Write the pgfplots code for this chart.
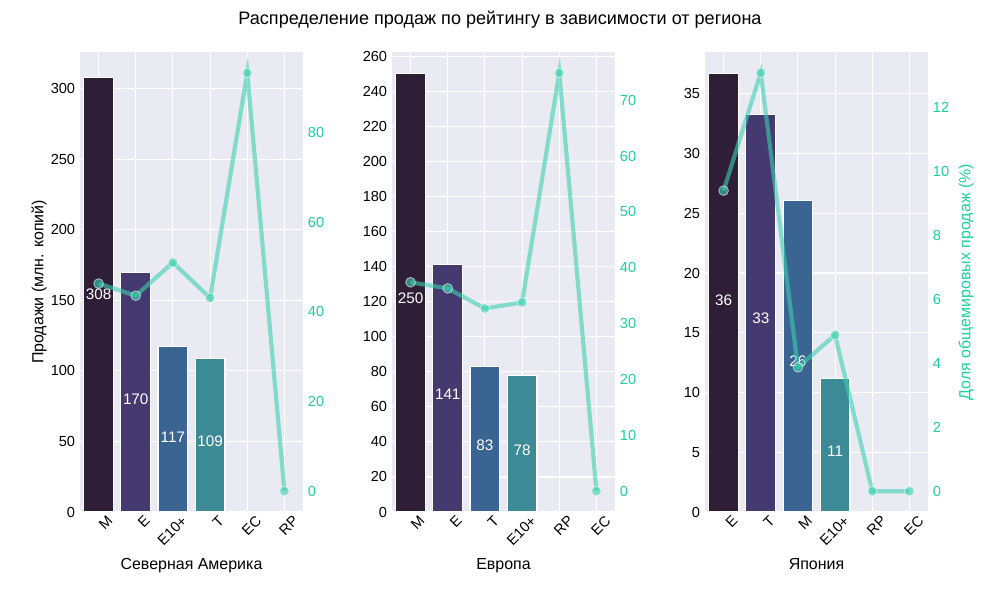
\documentclass[border=0pt]{standalone}
\usepackage{pgfplots}
\pgfplotsset{compat=1.18}
\usepackage{fontspec}
\setmainfont{Liberation Sans}
\definecolor{bg}{HTML}{EAEAF2}
\definecolor{ca}{HTML}{2E1F37}
\definecolor{cb}{HTML}{443A70}
\definecolor{cc}{HTML}{3A6491}
\definecolor{cd}{HTML}{3C8A96}
\definecolor{lncol}{HTML}{3CD0B0}
\definecolor{tk}{HTML}{1CCFA0}
\pgfplotsset{
 bpanel/.style={at={(#1*0.72pt,88*0.72pt)},anchor=south west,width=223*0.72pt,height=460*0.72pt,scale only axis,
  xmin=-0.5,xmax=5.5,ymin=0,
  /pgf/number format/assume math mode=true,
  tick label style={font=\fontsize{10.5}{12}\selectfont},
  label style={font=\fontsize{11.5}{13}\selectfont},
  tick style={draw=none}, axis line style={draw=none}},
 lpanel/.style={bpanel=#1, axis background/.style={fill=bg}, grid=major, grid style={white,line width=0.8pt},
  xtick={0,...,5}, xticklabel style={rotate=45,anchor=north east,yshift=-2pt,xshift=6pt},
  ylabel style={yshift=-4pt}},
 rpanel/.style={bpanel=#1, axis y line*=right, axis x line=none, yticklabel style={text=tk}},
 barst/.style={ybar,bar width=0.8,bar shift=0pt,draw=white,line width=0.8pt},
 labst/.style={only marks,mark=none,nodes near coords,point meta=explicit symbolic,
  nodes near coords style={anchor=center,text=white,font=\fontsize{11}{13}\selectfont}},
 lnst/.style={draw=lncol,opacity=0.6,line width=3pt,mark=*,mark size=3.5pt,mark options={draw=white,line width=0.6pt,fill=lncol}}
}
\begin{document}
\begin{tikzpicture}
\useasboundingbox (0,0) rectangle (720pt,432pt);
\node at (360pt,418pt) {\fontsize{13}{15}\selectfont Распределение продаж по рейтингу в зависимости от региона};
% Panel 1
\begin{axis}[lpanel=80, ymax=326, xticklabels={M,E,E10+,T,EC,RP}, xlabel={Северная Америка}, ylabel={Продажи (млн. копий)}]
\addplot[barst,fill=ca] coordinates {(0,308)};
\addplot[barst,fill=cb] coordinates {(1,170)};
\addplot[barst,fill=cc] coordinates {(2,117)};
\addplot[barst,fill=cd] coordinates {(3,109)};
\addplot[labst] coordinates {(0,154)[308] (1,80)[170] (2,53)[117] (3,50)[109]};
\end{axis}
\begin{axis}[rpanel=80, ymin=-4.67, ymax=97.97, ytick={0,20,...,80}]
\addplot[lnst] coordinates {(0,46.3) (1,43.6) (2,51.0) (3,43.1) (4,93.3) (5,0)};
\end{axis}
% Panel 2
\begin{axis}[lpanel=392, ymax=262.5, xticklabels={M,E,T,E10+,RP,EC}, xlabel={Европа}]
\addplot[barst,fill=ca] coordinates {(0,250)};
\addplot[barst,fill=cb] coordinates {(1,141)};
\addplot[barst,fill=cc] coordinates {(2,83)};
\addplot[barst,fill=cd] coordinates {(3,78)};
\addplot[labst] coordinates {(0,122)[250] (1,67)[141] (2,38)[83] (3,35)[78]};
\end{axis}
\begin{axis}[rpanel=392, ymin=-3.75, ymax=78.65, ytick={0,10,...,70}]
\addplot[lnst] coordinates {(0,37.4) (1,36.3) (2,32.7) (3,33.8) (4,74.9) (5,0)};
\end{axis}
% Panel 3
\begin{axis}[lpanel=705, ymax=38.5, xticklabels={E,T,M,E10+,RP,EC}, xlabel={Япония}]
\addplot[barst,fill=ca] coordinates {(0,36.7)};
\addplot[barst,fill=cb] coordinates {(1,33.3)};
\addplot[barst,fill=cc] coordinates {(2,26.1)};
\addplot[barst,fill=cd] coordinates {(3,11.2)};
\addplot[labst] coordinates {(0,17.7)[36] (1,16.2)[33] (2,12.6)[26] (3,5.1)[11]};
\end{axis}
\begin{axis}[rpanel=705, ymin=-0.65, ymax=13.72, ytick={0,2,...,12}, ylabel={Доля общемировых продаж (\%)}, ylabel style={text=tk}]
\addplot[lnst] coordinates {(0,9.39) (1,13.07) (2,3.87) (3,4.88) (4,0) (5,0)};
\end{axis}
\end{tikzpicture}
\end{document}
